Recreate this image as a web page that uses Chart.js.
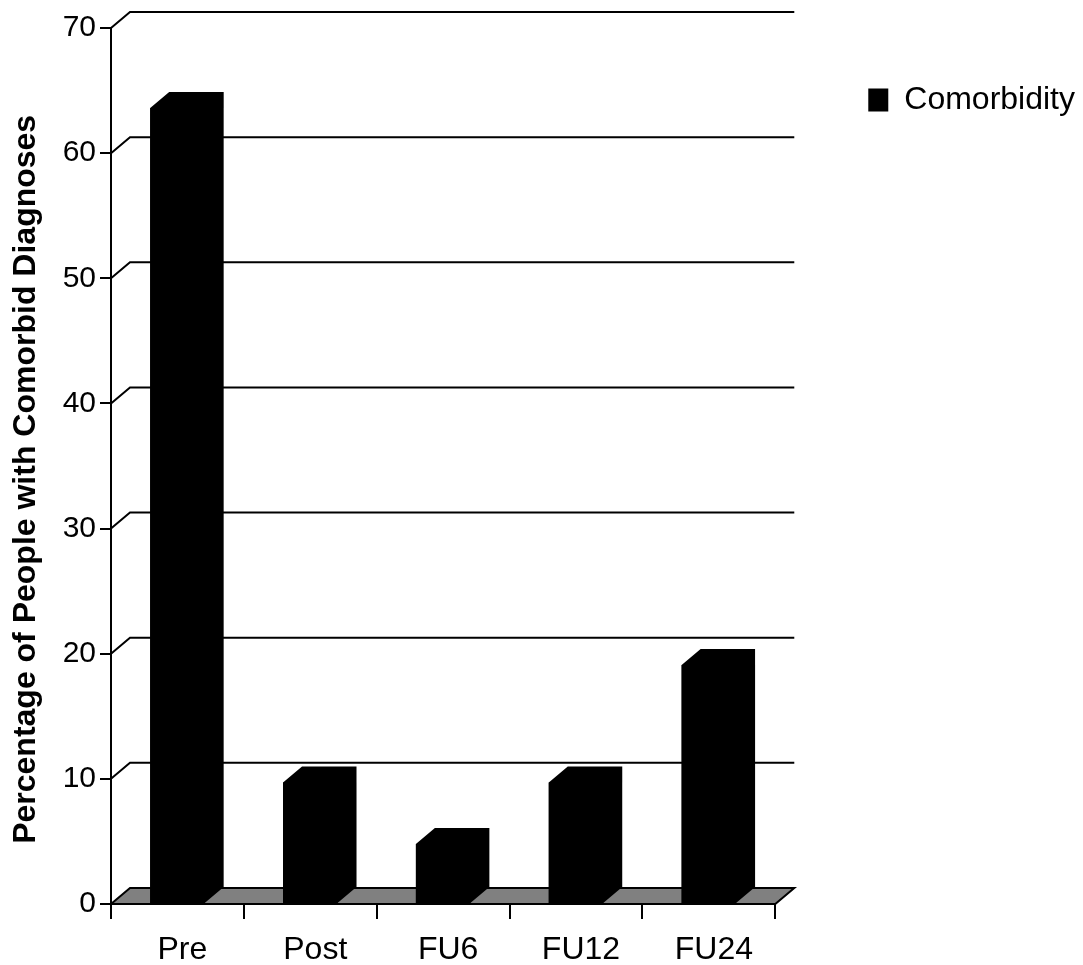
<!DOCTYPE html>
<html>
<head>
<meta charset="utf-8">
<script src="https://cdn.jsdelivr.net/npm/chart.js@4.4.1/dist/chart.umd.min.js"></script>
<style>
  body { margin: 0; background: #fff; }
</style>
</head>
<body>
<canvas id="comorbidity_chart" width="1083" height="965"></canvas>
<script>
// values
const categories = ['Pre', 'Post', 'FU6', 'FU12', 'FU24'];
const comorbidity = [63.6, 9.7, 4.8, 9.7, 19.1];
const yMin = 0;
const yMax = 70;
const yStep = 10;

// fake 3d depth of the box, in px
const DEPTH_X = 19;
const DEPTH_Y = 16;
const FONT = "'Liberation Sans', Arial, Helvetica, sans-serif";

// back wall grid + grey floor, drawn under the bars
const depthPlugin = {
    id: 'depth',
    beforeDatasetsDraw(chart){
        const ctx = chart.ctx;
        const area = chart.chartArea;
        const yScale = chart.scales.y;
        ctx.save();
        ctx.strokeStyle = '#000';
        ctx.lineWidth = 2;
        for(let v = yMin + yStep; v <= yMax; v += yStep){
            const y = yScale.getPixelForValue(v);
            ctx.beginPath();
            ctx.moveTo(area.left, y);
            ctx.lineTo(area.left + DEPTH_X, y - DEPTH_Y);
            ctx.lineTo(area.right + DEPTH_X, y - DEPTH_Y);
            ctx.stroke();
        }
        const y0 = yScale.getPixelForValue(yMin);
        ctx.beginPath();
        ctx.moveTo(area.left, y0);
        ctx.lineTo(area.left + DEPTH_X, y0 - DEPTH_Y);
        ctx.lineTo(area.right + DEPTH_X, y0 - DEPTH_Y);
        ctx.lineTo(area.right, y0);
        ctx.closePath();
        ctx.fillStyle = '#808080';
        ctx.fill();
        ctx.stroke();
        ctx.restore();
    },
    afterDatasetsDraw(chart){
        // whole bar outline incl. top + side, so no seam
        const ctx = chart.ctx;
        ctx.save();
        ctx.fillStyle = '#000';
        chart.getDatasetMeta(0).data.forEach(function(bar){
            const half = bar.width / 2;
            const l = bar.x - half, r = bar.x + half;
            ctx.beginPath();
            ctx.moveTo(l, bar.base);
            ctx.lineTo(l, bar.y);
            ctx.lineTo(l + DEPTH_X, bar.y - DEPTH_Y);
            ctx.lineTo(r + DEPTH_X, bar.y - DEPTH_Y);
            ctx.lineTo(r + DEPTH_X, bar.base - DEPTH_Y);
            ctx.lineTo(r, bar.base);
            ctx.closePath();
            ctx.fill();
        });
        ctx.restore();
    }
};

const ctx = document.getElementById('comorbidity_chart').getContext('2d');
const chart = new Chart(ctx, {
    type: 'bar',
    data: {
        labels: categories,
        datasets: [{
            label: 'Comorbidity',
            data: comorbidity,
            backgroundColor: '#000',
            borderWidth: 0,
            barPercentage: 0.41,
            categoryPercentage: 1.0,
            xAxisID: 'x',
            yAxisID: 'y'
        }]
    },
    plugins: [depthPlugin],
    options: {
        responsive: false,
        animation: false,
        devicePixelRatio: 1,
        layout: { padding: { left: 0, top: 28, right: -2, bottom: 0 } },
        plugins: {
            tooltip: { enabled: false },
            legend: {
                position: 'right',
                align: 'start',
                maxWidth: 400,
                title: { display: true, text: ' ', font: { size: 10 }, padding: { top: 36, bottom: 0 } },
                labels: {
                    boxWidth: 20,
                    boxHeight: 23,
                    padding: 8,
                    color: '#000',
                    font: { family: FONT, size: 32 }
                }
            }
        },
        scales: {
            x: {
                grid: { display: true, drawOnChartArea: false, drawTicks: true, tickLength: 15, color: '#000', lineWidth: 2, offset: true },
                border: { display: true, color: '#000', width: 2 },
                ticks: { color: '#000', padding: 12, labelOffset: 5, font: { family: FONT, size: 32 } },
                afterFit(scale){ scale.height = 61; }
            },
            y: {
                min: yMin,
                max: yMax,
                grid: { display: true, drawOnChartArea: false, drawTicks: true, tickLength: 11, color: '#000', lineWidth: 2 },
                border: { display: true, color: '#000', width: 2 },
                ticks: { stepSize: yStep, color: '#000', padding: 4, font: { family: FONT, size: 30 } },
                title: {
                    display: true,
                    text: 'Percentage of People with Comorbid Diagnoses   ',
                    color: '#000',
                    padding: { top: 7, bottom: 0 },
                    font: { family: FONT, size: 32, weight: 'bold' }
                },
                afterFit(scale){ scale.width = 111; }
            },
            // empty spacer so the legend sits away from the plot
            spacer: {
                type: 'linear',
                position: 'right',
                display: true,
                grid: { display: false },
                border: { display: false },
                ticks: { display: false },
                afterFit(scale){ scale.width = 85; }
            }
        }
    }
});
</script>
</body>
</html>
